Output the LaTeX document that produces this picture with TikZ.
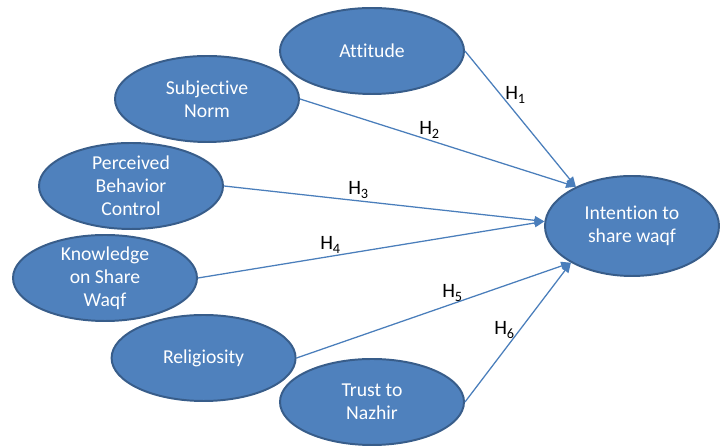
\documentclass[tikz,border=0pt]{standalone}
\usepackage{fontspec}
\setmainfont{Carlito}[Ligatures=NoCommon]
\usepackage{xcolor}
\usepackage{tikz}
\usetikzlibrary{arrows.meta, positioning, shapes.geometric}
\definecolor{myblue}{RGB}{79, 129, 189}
\definecolor{myborder}{RGB}{56, 93, 138}
\definecolor{myline}{RGB}{74, 126, 187}

\begin{document}
\begin{tikzpicture}[
    factor/.style={ellipse, draw=myborder, line width=1.4pt, fill=myblue, text=white, minimum width=4.6cm, minimum height=2.15cm, inner xsep=0pt, inner ysep=-3pt, align=center, font=\fontsize{14}{16.5}\selectfont},
    hyp/.style={-{Triangle[length=7pt, width=6pt]}, myline, line width=0.9pt},
    hlabel/.style={anchor=base west, inner sep=0pt, font=\fontsize{14.5}{16}\selectfont}]
    \useasboundingbox (0, 0) rectangle (18, 11.15);

    % factors
    \node[factor] (att) at (9.3, 9.875) {Attitude};
    \node[factor] (sn) at (5.175, 8.675) {Subjective\\Norm};
    \node[factor] (pbc) at (3.275, 6.5) {Perceived\\Behavior\\Control};
    \node[factor] (know) at (2.625, 4.2) {Knowledge\\on Share\\Waqf};
    \node[factor] (rel) at (5.09, 2.2) {Religiosity};
    \node[factor] (trust) at (9.3, 1.1) {Trust to\\Nazhir};

    % intention
    \node[factor, minimum width=4.35cm, minimum height=2.5cm] (int) at (15.8, 5.5) {Intention to\\share waqf};

    % hypotheses
    \draw[hyp] (att.east) -- (int.145);
    \draw[hyp] (sn.east) -- (int.145);
    \draw[hyp] (pbc.east) -- (int.177);
    \draw[hyp] (know.east) -- (int.177);
    \draw[hyp] (rel.east) -- (int.211);
    \draw[hyp] (trust.east) -- (int.211);

    \node[hlabel] (h1) at (12.625, 8.65) {H\textsubscript{1}};
    \node[hlabel] (h2) at (10.475, 7.775) {H\textsubscript{2}};
    \node[hlabel] (h3) at (8.7, 6.275) {H\textsubscript{3}};
    \node[hlabel] (h4) at (8.0, 4.9) {H\textsubscript{4}};
    \node[hlabel] (h5) at (11.05, 3.7) {H\textsubscript{5}};
    \node[hlabel] (h6) at (12.35, 2.775) {H\textsubscript{6}};
\end{tikzpicture}
\end{document}
